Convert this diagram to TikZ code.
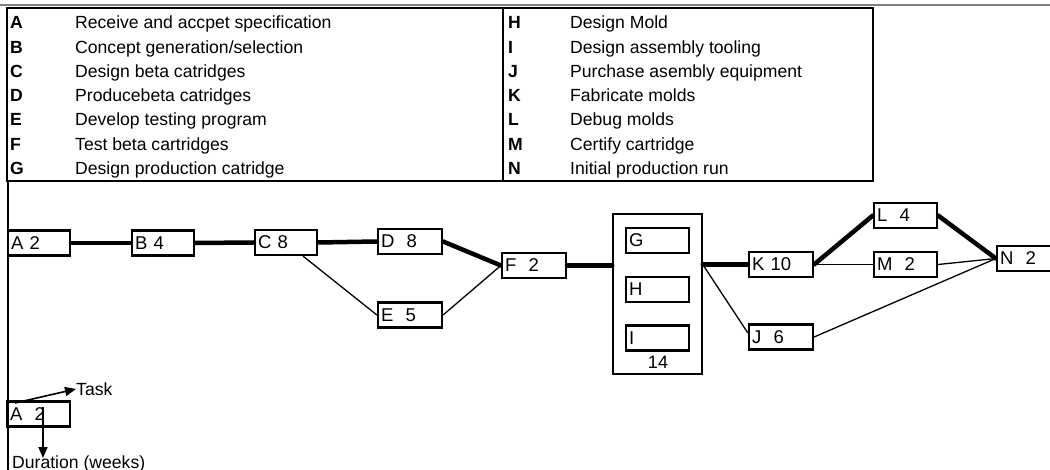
\documentclass[tikz,border=0pt]{standalone}
\usepackage{fontspec}
\setmainfont{Liberation Sans}
\usetikzlibrary{arrows.meta}
\tikzset{
  legtxt/.style={anchor=base west, inner sep=0pt, font=\fontsize{17.6}{20}\selectfont},
  legkey/.style={legtxt, font=\fontsize{17.6}{20}\selectfont\bfseries},
  task/.style={draw, line width=2.2pt, inner xsep=3pt, inner ysep=0pt, text width=#1,
    minimum height=25pt, align=left, font=\fontsize{18.5}{20}\selectfont},
  task/.default=58pt,
  crit/.style={line width=4.5pt, line cap=round},
  thinln/.style={line width=1.3pt},
  arr/.style={line width=1.6pt, -{Triangle[length=11pt,width=9pt]}}
}
\begin{document}
\begin{tikzpicture}[x=1pt,y=-1pt]
\useasboundingbox (0,0) rectangle (1050,470);
\clip (0,0) rectangle (1050,470);
\fill[white] (0,0) rectangle (1050,470);
% top rule and left rule
\draw[gray, line width=1.3pt] (0,5) -- (1050,5);
\draw[line width=1.5pt] (8,181) -- (8,470);
% legend frame
\draw[line width=2.8pt] (7,8) rectangle (873,181);
\draw[line width=2.8pt] (503,8) -- (503,181);
% legend entries
\foreach \k/\t [count=\i from 0] in {A/Receive and accpet specification,B/Concept generation\slash selection,C/Design beta catridges,D/Producebeta catridges,E/Develop testing program,F/Test beta cartridges,G/Design production catridge}{
  \node[legkey] (lk\k) at (10,28.8+24.3*\i) {\k};
  \node[legtxt] (lt\k) at (75,28.8+24.3*\i) {\t};
}
\foreach \k/\t [count=\i from 0] in {H/Design Mold,I/Design assembly tooling,J/Purchase asembly equipment,K/Fabricate molds,L/Debug molds,M/Certify cartridge,N/Initial production run}{
  \node[legkey] (lk\k) at (508,28.8+24.3*\i) {\k};
  \node[legtxt] (lt\k) at (570,28.8+24.3*\i) {\t};
}
% network nodes
\node[task=56pt] (A) at (39,243) {A 2};
\node[task=56pt] (B) at (163,243) {B 4};
\node[task=56pt] (C) at (286,242.5) {C 8};
\node[task] (D) at (410,241.5) {D\ \ 8};
\node[task] (E) at (410,315) {E\ \ 5};
\node[task] (F) at (534,265.5) {F\ \ 2};
\node[draw, line width=1.5pt, minimum width=89pt, minimum height=160pt, inner sep=0pt] (GHI) at (657.5,294) {};
\node[task=57pt] (G) at (657.5,240.5) {G};
\node[task=57pt] (H) at (657.5,289.5) {H};
\node[task=57pt] (I) at (657.5,338) {I};
\node[inner sep=0pt, font=\fontsize{18}{20}\selectfont] (n14) at (658,362) {14};
\node[task] (K) at (781,264.5) {K 10};
\node[task=57pt] (L) at (905.5,215.5) {L\ \ 4};
\node[task=57pt] (M) at (905.5,264.5) {M\ \ 2};
\node[task] (N) at (1029,258.5) {N\ \ 2};
\node[task] (J) at (781,337) {J\ \ 6};
% connectors
\draw[crit] (A.east) -- (B.west);
\draw[crit] (B.east) -- (C.west);
\draw[crit] (C.east) -- (D.west);
\draw[thinln] ([xshift=17pt]C.south) -- (E.west);
\draw[crit] (D.east) -- (F.west);
\draw[thinln] (E.east) -- (F.west);
\draw[crit] (F.east) -- (GHI.west |- F.east);
\draw[crit] (GHI.east |- K.west) -- (K.west);
\draw[thinln] (GHI.east |- K.west) -- ([yshift=4pt]J.west);
\draw[crit] (K.east) -- (L.west);
\draw[thinln] (K.east) -- (M.west);
\draw[crit] (L.east) -- (N.west);
\draw[thinln] (M.east) -- (N.west);
\draw[thinln] (J.east) -- (N.west);
% key
\node[task=57pt] (key) at (38.5,414) {A\ \ 2};
\node[anchor=west, inner sep=0pt, font=\fontsize{17.6}{20}\selectfont] (tasklbl) at (76,389) {Task};
\node[anchor=base west, inner sep=0pt, font=\fontsize{17.6}{20}\selectfont] (durlbl) at (12,468) {Duration (weeks)};
\coordinate (kt) at (15,403);
\coordinate (kd) at (43,407);
\coordinate (kdend) at (43,458);
\draw[arr] (kt) -- (tasklbl.west);
\draw[arr] (kd) -- (kdend);
\end{tikzpicture}
\end{document}
